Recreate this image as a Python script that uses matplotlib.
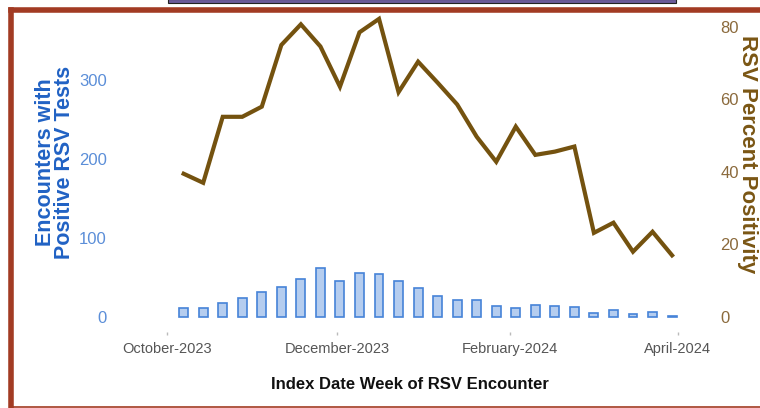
import numpy as np
import pandas as pd
import matplotlib
matplotlib.use("Agg")
import matplotlib.pyplot as plt
import matplotlib.dates as mdates
from matplotlib.patches import Rectangle
from matplotlib.lines import Line2D

weeks = pd.date_range("2023-10-07", "2024-03-30", freq="7D")
encounters = [11, 12, 18, 24, 31, 38, 48, 62, 46, 56, 55, 45, 37, 26, 22, 21,
              14, 12, 15, 14, 13, 5, 9, 3.5, 6, 1.5]
positivity = [39.5, 37, 55.2, 55.2, 58, 75, 80.7, 74.6, 63.5, 78.5, 82.2, 62,
              70.4, 64.6, 58.6, 49.7, 42.8, 52.5, 44.7, 45.6, 47, 23.2, 26, 18,
              23.5, 17]
tick_dates = pd.to_datetime(["2023-10-01", "2023-12-01", "2024-02-01", "2024-04-01"])
tick_labels = ["October-2023", "December-2023", "February-2024", "April-2024"]

plt.rcParams['font.family'] = ["Liberation Sans", "DejaVu Sans"]

fig = plt.figure(figsize=(7.6, 4.08), dpi=100)
ax = fig.add_axes([115 / 760, (408 - 332) / 408, 590 / 760, 320 / 408])
ax2 = ax.twinx()

x = mdates.date2num(weeks)
ax.bar(x, encounters, width=3.2, color="#b5cdef", edgecolor="#4683d8", linewidth=1.2, zorder=2)
ax2.plot(x, positivity, color="#74520f", lw=3, solid_joinstyle="miter", zorder=3)

x0 = mdates.date2num(pd.Timestamp("2023-10-01"))
ax.set_xlim(x0 - 18.6, x0 + 192.8)
ax.set_ylim(-19, 386)
ax2.set_ylim(-4.14, 84.1)

for a in (ax, ax2):
    for s in a.spines.values():
        s.set_visible(False)

ax.set_xticks(mdates.date2num(tick_dates))
ax.set_xticklabels(tick_labels, fontsize=10.5, color="#555555")
ax.tick_params(axis="x", length=2, width=1, color="#bbbbbb", pad=5)

ax.set_yticks([0, 100, 200, 300])
ax.set_yticklabels(["0", "100", "200", "300"], fontsize=12, color="#5b8ed8")
ax.tick_params(axis="y", length=0, pad=6)

ax2.set_yticks([0, 20, 40, 60, 80])
ax2.set_yticklabels(["0", "20", "40", "60", "80"], fontsize=12, color="#8b6a3c")
ax2.tick_params(axis="y", length=0, pad=11)

ax.set_xlabel("Index Date Week of RSV Encounter", fontsize=12,
              fontweight="bold", color="#111111")
ax.xaxis.set_label_coords(0.5, -0.14)
ax.set_ylabel("Encounters with\nPositive RSV Tests", fontsize=15.5, fontweight="bold",
              color="#2162c4", linespacing=0.85)
ax2.set_ylabel("RSV Percent Positivity", fontsize=16, fontweight="bold",
               color="#7a5614", rotation=270)
ax.yaxis.set_label_coords(-0.068, 0.53)
ax2.yaxis.set_label_coords(1.09, 0.555)

# frame around the picture
fw, fh = 760, 408
fig.add_artist(Line2D([10.5 / fw, 10.5 / fw], [1 - 10 / fh, 0], color="#a23b23", lw=4,
                      transform=fig.transFigure))
fig.add_artist(Line2D([10.5 / fw, 1], [1 - 9.5 / fh, 1 - 9.5 / fh], color="#a23b23", lw=4,
                      transform=fig.transFigure))
fig.add_artist(Line2D([10.5 / fw, 1], [1.5 / fh, 1.5 / fh], color="#a23b23", lw=1.2,
                      transform=fig.transFigure))
fig.add_artist(Rectangle((168 / fw, 1 - 3 / fh), 508 / fw, 4 / fh, facecolor="#6a5a9a",
                         edgecolor="#222222", lw=0.8, transform=fig.transFigure))

fig.savefig("out.png", dpi=100)
